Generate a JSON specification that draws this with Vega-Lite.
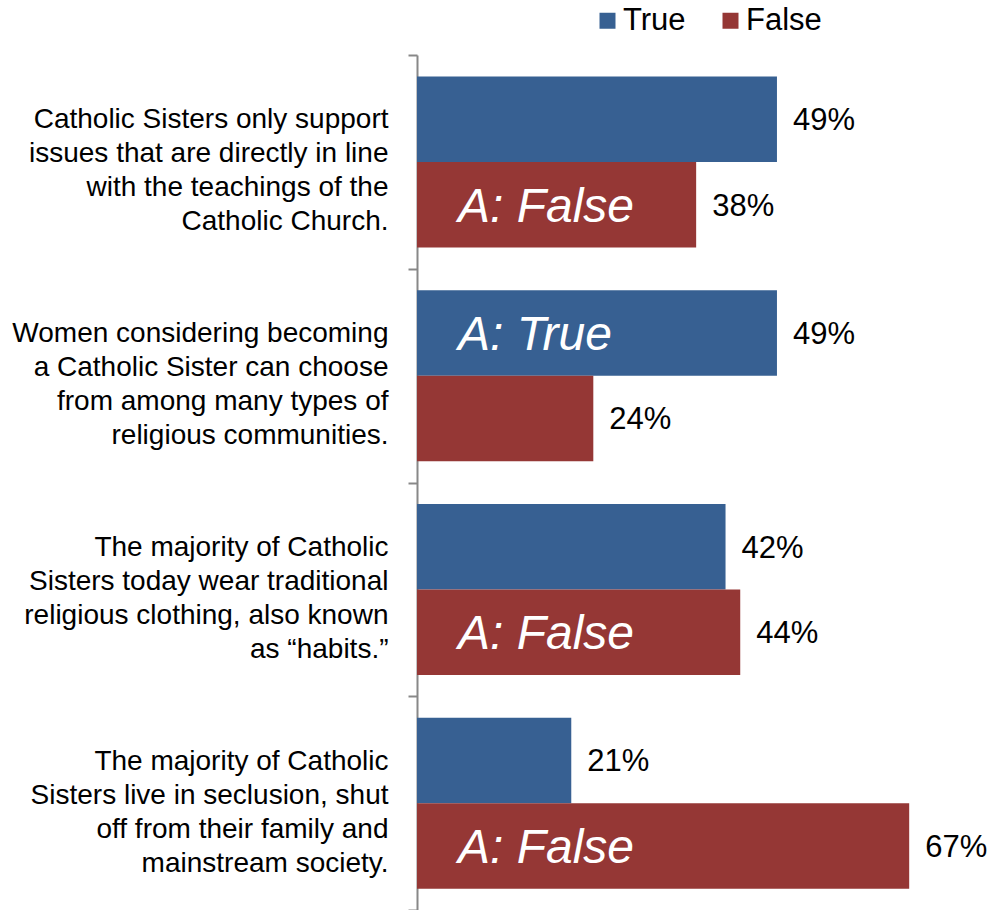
{
  "$schema": "https://vega.github.io/schema/vega-lite/v6.json",
  "autosize": "none",
  "width": 573,
  "height": 855,
  "padding": {"left": 417, "top": 55, "right": 0, "bottom": 0},
  "background": "white",
  "config": {
    "view": {"stroke": null},
    "font": "Liberation Sans"
  },
  "data": {
    "values": [
      {"question": "Catholic Sisters only support|issues that are directly in line|with the teachings of the|Catholic Church.", "answer": "True", "value": 49, "label": "49%", "note": ""},
      {"question": "Catholic Sisters only support|issues that are directly in line|with the teachings of the|Catholic Church.", "answer": "False", "value": 38, "label": "38%", "note": "A: False"},
      {"question": "Women considering becoming|a Catholic Sister can choose|from among many types of|religious communities.", "answer": "True", "value": 49, "label": "49%", "note": "A: True"},
      {"question": "Women considering becoming|a Catholic Sister can choose|from among many types of|religious communities.", "answer": "False", "value": 24, "label": "24%", "note": ""},
      {"question": "The majority of Catholic|Sisters today wear traditional|religious clothing, also known|as “habits.”", "answer": "True", "value": 42, "label": "42%", "note": ""},
      {"question": "The majority of Catholic|Sisters today wear traditional|religious clothing, also known|as “habits.”", "answer": "False", "value": 44, "label": "44%", "note": "A: False"},
      {"question": "The majority of Catholic|Sisters live in seclusion, shut|off from their family and|mainstream society.", "answer": "True", "value": 21, "label": "21%", "note": ""},
      {"question": "The majority of Catholic|Sisters live in seclusion, shut|off from their family and|mainstream society.", "answer": "False", "value": 67, "label": "67%", "note": "A: False"}
    ]
  },
  "encoding": {
    "y": {
      "field": "question",
      "type": "nominal",
      "sort": null,
      "scale": {"paddingInner": 0, "paddingOuter": 0},
      "axis": {
        "title": null,
        "labelExpr": "split(datum.label, '|')",
        "labelFont": "Liberation Sans",
        "labelFontSize": 28,
        "labelColor": "#000000",
        "labelLineHeight": 34,
        "labelPadding": 20,
        "labelOffset": -42,
        "labelLimit": 0,
        "tickBand": "extent",
        "tickSize": 9,
        "tickWidth": 2,
        "tickColor": "#888888",
        "domainColor": "#888888",
        "domainWidth": 2
      }
    },
    "yOffset": {
      "field": "answer",
      "type": "nominal",
      "sort": ["True", "False"],
      "scale": {"paddingInner": 0, "paddingOuter": 0.25}
    },
    "x": {
      "field": "value",
      "type": "quantitative",
      "scale": {"domain": [0, 78], "nice": false},
      "axis": null
    }
  },
  "layer": [
    {
      "mark": {"type": "bar"},
      "encoding": {
        "color": {
          "field": "answer",
          "type": "nominal",
          "sort": ["True", "False"],
          "scale": {"domain": ["True", "False"], "range": ["#376092", "#953735"]},
          "legend": {
            "title": null,
            "orient": "none",
            "direction": "horizontal",
            "legendX": 175,
            "legendY": -50,
            "symbolType": "square",
            "symbolSize": 256,
            "symbolStrokeWidth": 0,
            "labelFont": "Liberation Sans",
            "labelFontSize": 31,
            "labelColor": "#000000",
            "labelOffset": 0,
            "columnPadding": 29,
            "labelLimit": 0
          }
        }
      }
    },
    {
      "mark": {"type": "text", "align": "left", "baseline": "middle", "dx": 16, "dy": 2, "fontSize": 31, "font": "Liberation Sans", "color": "#000000"},
      "encoding": {
        "text": {"field": "label"}
      }
    },
    {
      "mark": {"type": "text", "align": "left", "baseline": "middle", "dx": 41, "dy": 3, "fontSize": 48, "fontStyle": "italic", "font": "Liberation Sans", "color": "#ffffff"},
      "encoding": {
        "x": {"datum": 0},
        "text": {"field": "note"}
      }
    }
  ]
}
